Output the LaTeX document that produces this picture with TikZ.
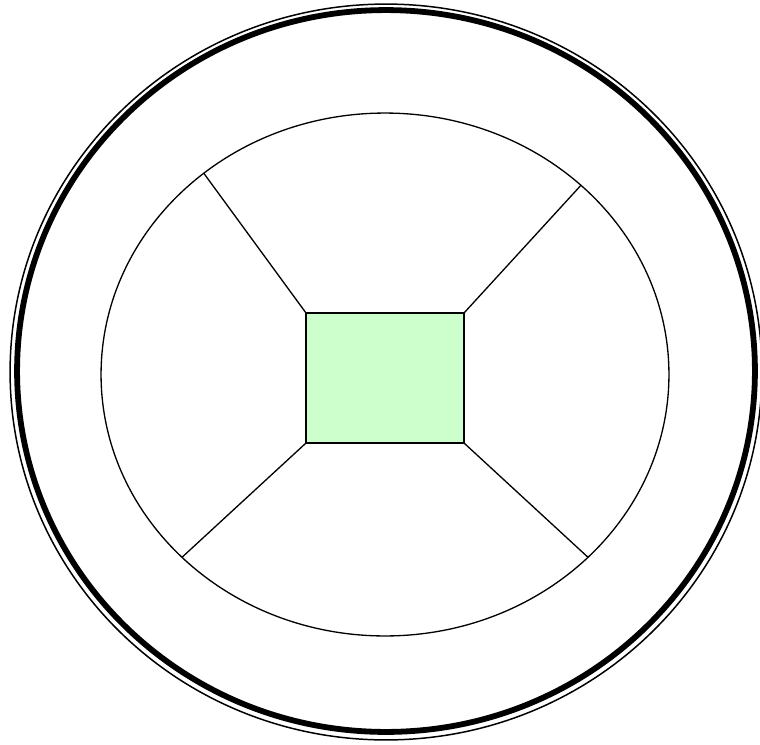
\documentclass[tikz,border=0pt]{standalone}
\usepackage{tikz}
\usetikzlibrary{shapes.geometric}
\definecolor{corefill}{HTML}{CCFFCC}
\tikzset{
  rimthin/.style={draw, ellipse, inner sep=0pt, outer sep=0pt, line width=0.85pt},
  rimthick/.style={draw, ellipse, inner sep=0pt, outer sep=0pt, line width=3.3pt},
  ringbox/.style={draw, ellipse, inner sep=0pt, outer sep=0pt, line width=0.75pt},
  corebox/.style={draw, rectangle, inner sep=0pt, outer sep=0pt, line width=0.9pt, fill=corefill},
  spoke/.style={line width=0.75pt}
}
\begin{document}
\begin{tikzpicture}[x=0.02cm, y=-0.02cm]
\useasboundingbox (0,0) rectangle (760,744);
\node[rimthin, minimum width=15.04cm, minimum height=14.72cm] (rimout) at (386,372) {};
\node[rimthick, minimum width=14.76cm, minimum height=14.44cm] (rimin) at (386,371) {};
\node[ringbox, minimum width=11.36cm, minimum height=10.46cm] (ring) at (385,374.5) {};
\node[corebox, minimum width=3.16cm, minimum height=2.6cm] (core) at (385,378) {};
\draw[spoke] (core.north west) -- (ring.132.4);
\draw[spoke] (core.north east) -- (ring.44.2);
\draw[spoke] (core.south west) -- (ring.222.6);
\draw[spoke] (core.south east) -- (ring.318.7);
\end{tikzpicture}
\end{document}
